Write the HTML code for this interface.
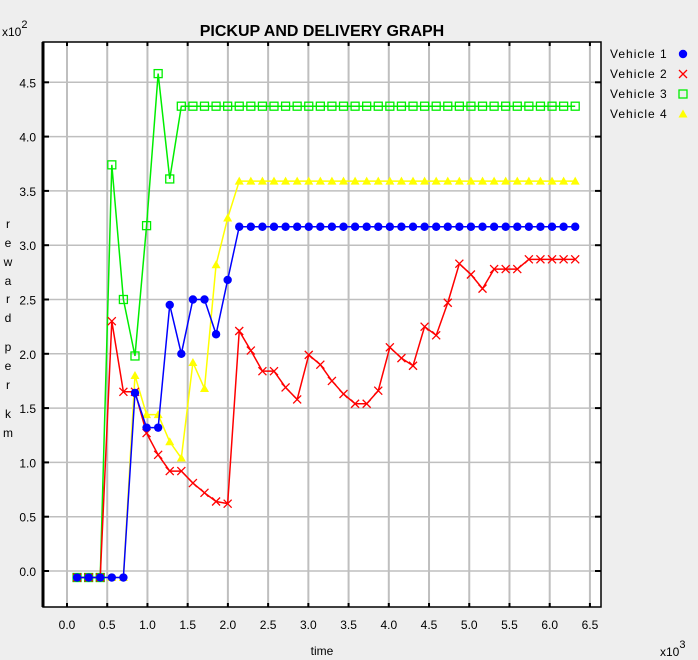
<!DOCTYPE html>
<html><head><meta charset="utf-8"><style>
body{margin:0;background:#eeeeee;}
svg{display:block;font-family:"Liberation Sans",sans-serif;}
</style></head><body>
<svg id="chart" width="698" height="660" viewBox="0 0 698 660">
<rect x="0" y="0" width="698" height="660" fill="#eeeeee"/>
<rect x="43" y="42" width="558" height="565" fill="#ffffff"/>
<g id="grid"></g>
<g id="series"></g>
<g id="axes"></g>
<text x="322" y="36" text-anchor="middle" font-size="16" font-weight="bold" fill="#000">PICKUP AND DELIVERY GRAPH</text>
<text x="2" y="36" font-size="12" fill="#000">x10<tspan dy="-8" font-size="11">2</tspan></text>
<text x="660" y="656" font-size="12" fill="#000">x10<tspan dy="-8" font-size="11">3</tspan></text>
<text x="322" y="655" text-anchor="middle" font-size="12" fill="#000">time</text>
<g font-size="12" fill="#000" text-anchor="middle" id="ytitle"></g>
<g id="legend" font-size="12" fill="#000"></g>
</svg>
<script>
const xTicks=["0.0","0.5","1.0","1.5","2.0","2.5","3.0","3.5","4.0","4.5","5.0","5.5","6.0","6.5"];
const yTicks=["0.0","0.5","1.0","1.5","2.0","2.5","3.0","3.5","4.0","4.5"];
const xStart=0.125, xStep=0.144;
const v1=[-0.06,-0.06,-0.06,-0.06,-0.06,1.64,1.32,1.32,2.45,2.0,2.5,2.5,2.18,2.68,3.17,3.17,3.17,3.17,3.17,3.17,3.17,3.17,3.17,3.17,3.17,3.17,3.17,3.17,3.17,3.17,3.17,3.17,3.17,3.17,3.17,3.17,3.17,3.17,3.17,3.17,3.17,3.17,3.17,3.17];
const v2=[-0.06,-0.06,-0.06,2.30,1.65,1.65,1.27,1.07,0.92,0.92,0.81,0.72,0.64,0.62,2.21,2.03,1.84,1.84,1.69,1.58,1.99,1.90,1.75,1.63,1.54,1.54,1.66,2.06,1.96,1.89,2.25,2.17,2.47,2.83,2.73,2.60,2.78,2.78,2.78,2.87,2.87,2.87,2.87,2.87];
const v3=[-0.06,-0.06,-0.06,3.74,2.50,1.98,3.18,4.58,3.61,4.28,4.28,4.28,4.28,4.28,4.28,4.28,4.28,4.28,4.28,4.28,4.28,4.28,4.28,4.28,4.28,4.28,4.28,4.28,4.28,4.28,4.28,4.28,4.28,4.28,4.28,4.28,4.28,4.28,4.28,4.28,4.28,4.28,4.28,4.28];
const v4=[-0.06,-0.06,-0.06,-0.06,-0.06,1.80,1.44,1.44,1.19,1.04,1.92,1.68,2.82,3.25,3.59,3.59,3.59,3.59,3.59,3.59,3.59,3.59,3.59,3.59,3.59,3.59,3.59,3.59,3.59,3.59,3.59,3.59,3.59,3.59,3.59,3.59,3.59,3.59,3.59,3.59,3.59,3.59,3.59,3.59];
const names=["Vehicle 1","Vehicle 2","Vehicle 3","Vehicle 4"];
const colors=["#0000ff","#ff0000","#00ee00","#ffff00"];

const NS="http://www.w3.org/2000/svg";
function X(v){return 67+v*80.45;}
function Y(v){return 571-v*108.6;}
function mk(tag,attrs,parent){const e=document.createElementNS(NS,tag);for(const k in attrs)e.setAttribute(k,attrs[k]);parent.appendChild(e);return e;}
const grid=document.getElementById('grid'),axes=document.getElementById('axes'),ser=document.getElementById('series');
xTicks.forEach((t,i)=>{const v=parseFloat(t);const x=X(v);
 const l=mk('line',{x1:x,y1:42,x2:x,y2:607,stroke:'#bfbfbf','stroke-width':2},grid);
 
 
 mk('line',{x1:x,y1:42,x2:x,y2:46,stroke:'#000','stroke-width':2},axes);
 mk('line',{x1:x,y1:603,x2:x,y2:607,stroke:'#000','stroke-width':2},axes);
 const tx=mk('text',{x:x,y:629,'text-anchor':'middle','font-size':12,fill:'#000'},axes);tx.textContent=t;
 
 
});
yTicks.forEach((t)=>{const v=parseFloat(t);const y=Y(v);
 const l=mk('line',{x1:43,y1:y,x2:601,y2:y,stroke:'#bfbfbf','stroke-width':1.5},grid);
 
 
 mk('line',{x1:43,y1:y,x2:49,y2:y,stroke:'#000','stroke-width':2},axes);
 mk('line',{x1:595,y1:y,x2:601,y2:y,stroke:'#000','stroke-width':2},axes);
 const tx=mk('text',{x:36,y:y+5,'text-anchor':'end','font-size':12,fill:'#000'},axes);tx.textContent=t;
 
 
});
mk('rect',{x:43,y:42,width:558,height:565,fill:'none',stroke:'#000','stroke-width':1.5},axes);
mk('line',{x1:43,y1:42,x2:43,y2:607,stroke:'#000','stroke-width':3},axes);

function marker(kind,x,y,c,g){
 if(kind===0)return mk('circle',{cx:x,cy:y,r:4.2,fill:c},g);
 if(kind===1){const p=mk('path',{d:`M${x-4},${y-4}L${x+4},${y+4}M${x-4},${y+4}L${x+4},${y-4}`,stroke:c,'stroke-width':1.3,fill:'none'},g);return p;}
 if(kind===2)return mk('rect',{x:x-4,y:y-4,width:8,height:8,fill:'none',stroke:c,'stroke-width':1.3},g);
 return mk('path',{d:`M${x},${y-4.5}L${x+4.5},${y+3.5}L${x-4.5},${y+3.5}Z`,fill:c},g);
}
const all=[v1,v2,v3,v4];
const order=[3,2,1,0];
order.forEach(s=>{const vals=all[s];
 const g=mk('g',{},ser);
 
 
 const pts=vals.map((v,i)=>X(xStart+xStep*i)+','+Y(v)).join(' ');
 mk('polyline',{points:pts,fill:'none',stroke:colors[s],'stroke-width':1.5},g);
 vals.forEach((v,i)=>{const m=marker(s,X(xStart+xStep*i),Y(v),colors[s],g);
  
  });
});
const lg=document.getElementById('legend');
names.forEach((n,i)=>{const y=58+i*20;
 const t=mk('text',{x:610,y:y,'font-size':12,'letter-spacing':'1'},lg);t.textContent=n;
 
 
 marker(i,683,y-4,colors[i],lg);
});
const yt=document.getElementById('ytitle');
const letters=[["r",228],["e",247],["w",266],["a",285],["r",303],["d",322],["p",351],["e",370],["r",389],["k",418],["m",437]];
letters.forEach(([c,y])=>{const t=mk('text',{x:8,y:y},yt);t.textContent=c;});
</script>
</body></html>
